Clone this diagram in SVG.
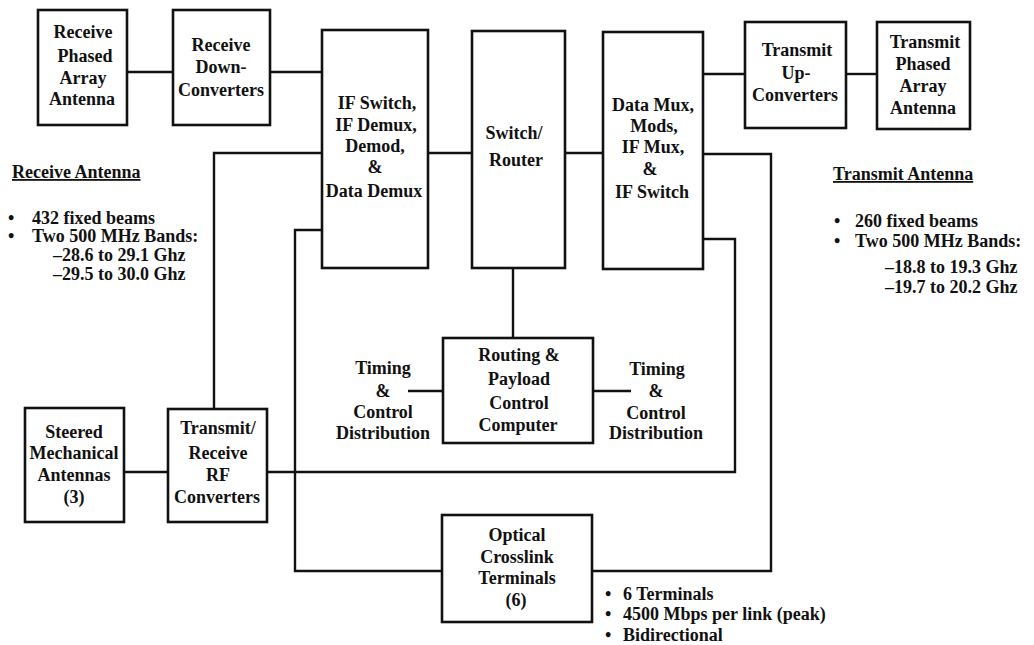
<svg xmlns="http://www.w3.org/2000/svg" width="1034" height="645" viewBox="0 0 1034 645">
<style>
.box{fill:#fff;stroke:#111;stroke-width:2.6}
.ln{fill:none;stroke:#111;stroke-width:2.4}
text{font-family:"Liberation Serif","Times New Roman",serif;font-weight:bold;font-size:18px;fill:#111}
.c{text-anchor:middle}
</style>
<rect width="1034" height="645" fill="#fff"/>
<g id="connectors">
<path class="ln" d="M127,72H173"/>
<path class="ln" d="M270,72H322"/>
<path class="ln" d="M428,153H472"/>
<path class="ln" d="M565,153H603"/>
<path class="ln" d="M703,74H745"/>
<path class="ln" d="M846,74H877"/>
<path class="ln" d="M322,153H214V409"/>
<path class="ln" d="M322,230H295V571H442"/>
<path class="ln" d="M703,154H771V571H592"/>
<path class="ln" d="M703,239H735V472H267"/>
<path class="ln" d="M124,472H168"/>
<path class="ln" d="M513,268V338"/>
<path class="ln" d="M408,391H443"/>
<path class="ln" d="M593,391H631"/>
</g>
<g id="rx-phased-array">
<rect class="box" x="38" y="10" width="89" height="115"/>
<text class="c" x="83" y="38">Receive</text>
<text class="c" x="85" y="62">Phased</text>
<text class="c" x="83" y="84">Array</text>
<text class="c" x="82" y="105">Antenna</text>
</g>
<g id="rx-downconverters">
<rect class="box" x="173" y="10" width="97" height="115"/>
<text class="c" x="221" y="51">Receive</text>
<text class="c" x="221" y="73">Down-</text>
<text class="c" x="221" y="96">Converters</text>
</g>
<g id="if-switch">
<rect class="box" x="322" y="30" width="106" height="238"/>
<text class="c" x="377" y="109">IF Switch,</text>
<text class="c" x="376" y="131">IF Demux,</text>
<text class="c" x="375" y="152">Demod,</text>
<text class="c" x="375" y="173">&amp;</text>
<text class="c" x="374" y="197">Data Demux</text>
</g>
<g id="switch-router">
<rect class="box" x="472" y="31" width="93" height="237"/>
<text class="c" x="514" y="139">Switch/</text>
<text class="c" x="516" y="166">Router</text>
</g>
<g id="data-mux">
<rect class="box" x="603" y="32" width="100" height="237"/>
<text class="c" x="653" y="111">Data Mux,</text>
<text class="c" x="654" y="132">Mods,</text>
<text class="c" x="653" y="153">IF Mux,</text>
<text class="c" x="650" y="175">&amp;</text>
<text class="c" x="652" y="198">IF Switch</text>
</g>
<g id="tx-upconverters">
<rect class="box" x="745" y="22" width="101" height="106"/>
<text class="c" x="797" y="56">Transmit</text>
<text class="c" x="796" y="79">Up-</text>
<text class="c" x="795" y="101">Converters</text>
</g>
<g id="tx-phased-array">
<rect class="box" x="877" y="22" width="93" height="107"/>
<text class="c" x="925" y="48">Transmit</text>
<text class="c" x="923" y="70">Phased</text>
<text class="c" x="923" y="92">Array</text>
<text class="c" x="923" y="114">Antenna</text>
</g>
<g id="rx-antenna-notes">
<text x="12" y="178" text-decoration="underline">Receive Antenna</text>
<text x="8" y="224">•</text><text x="32" y="224">432 fixed beams</text>
<text x="8" y="242">•</text><text x="32" y="242">Two 500 MHz Bands:</text>
<text x="53" y="261">–28.6 to 29.1 Ghz</text>
<text x="53" y="280">–29.5 to 30.0 Ghz</text>
</g>
<g id="tx-antenna-notes">
<text x="833" y="180" text-decoration="underline">Transmit Antenna</text>
<text x="834" y="227">•</text><text x="855" y="227">260 fixed beams</text>
<text x="834" y="247">•</text><text x="855" y="247">Two 500 MHz Bands:</text>
<text x="885" y="273">–18.8 to 19.3 Ghz</text>
<text x="885" y="293">–19.7 to 20.2 Ghz</text>
</g>
<g id="routing-computer">
<rect class="box" x="443" y="338" width="150" height="105"/>
<text class="c" x="519" y="361">Routing &amp;</text>
<text class="c" x="519" y="385">Payload</text>
<text class="c" x="519" y="409">Control</text>
<text class="c" x="518" y="431">Computer</text>
</g>
<g id="timing-left">
<text class="c" x="383" y="374">Timing</text>
<text class="c" x="383" y="397">&amp;</text>
<text class="c" x="383" y="418">Control</text>
<text class="c" x="383" y="439">Distribution</text>
</g>
<g id="timing-right">
<text class="c" x="657" y="375">Timing</text>
<text class="c" x="656" y="397">&amp;</text>
<text class="c" x="656" y="419">Control</text>
<text class="c" x="656" y="439">Distribution</text>
</g>
<g id="steered-antennas">
<rect class="box" x="25" y="408" width="99" height="114"/>
<text class="c" x="74" y="438">Steered</text>
<text class="c" x="74" y="459">Mechanical</text>
<text class="c" x="74" y="481">Antennas</text>
<text class="c" x="74" y="503">(3)</text>
</g>
<g id="rf-converters">
<rect class="box" x="168" y="409" width="99" height="113"/>
<text class="c" x="218" y="434">Transmit/</text>
<text class="c" x="218" y="459">Receive</text>
<text class="c" x="218" y="481">RF</text>
<text class="c" x="217" y="503">Converters</text>
</g>
<g id="optical-crosslink">
<rect class="box" x="442" y="515" width="150" height="107"/>
<text class="c" x="517" y="541">Optical</text>
<text class="c" x="517" y="563">Crosslink</text>
<text class="c" x="517" y="584">Terminals</text>
<text class="c" x="516" y="606">(6)</text>
</g>
<g id="optical-notes">
<text x="605" y="600">•</text><text x="623" y="600">6 Terminals</text>
<text x="605" y="620">•</text><text x="623" y="620">4500 Mbps per link (peak)</text>
<text x="605" y="641">•</text><text x="623" y="641">Bidirectional</text>
</g>
</svg>
